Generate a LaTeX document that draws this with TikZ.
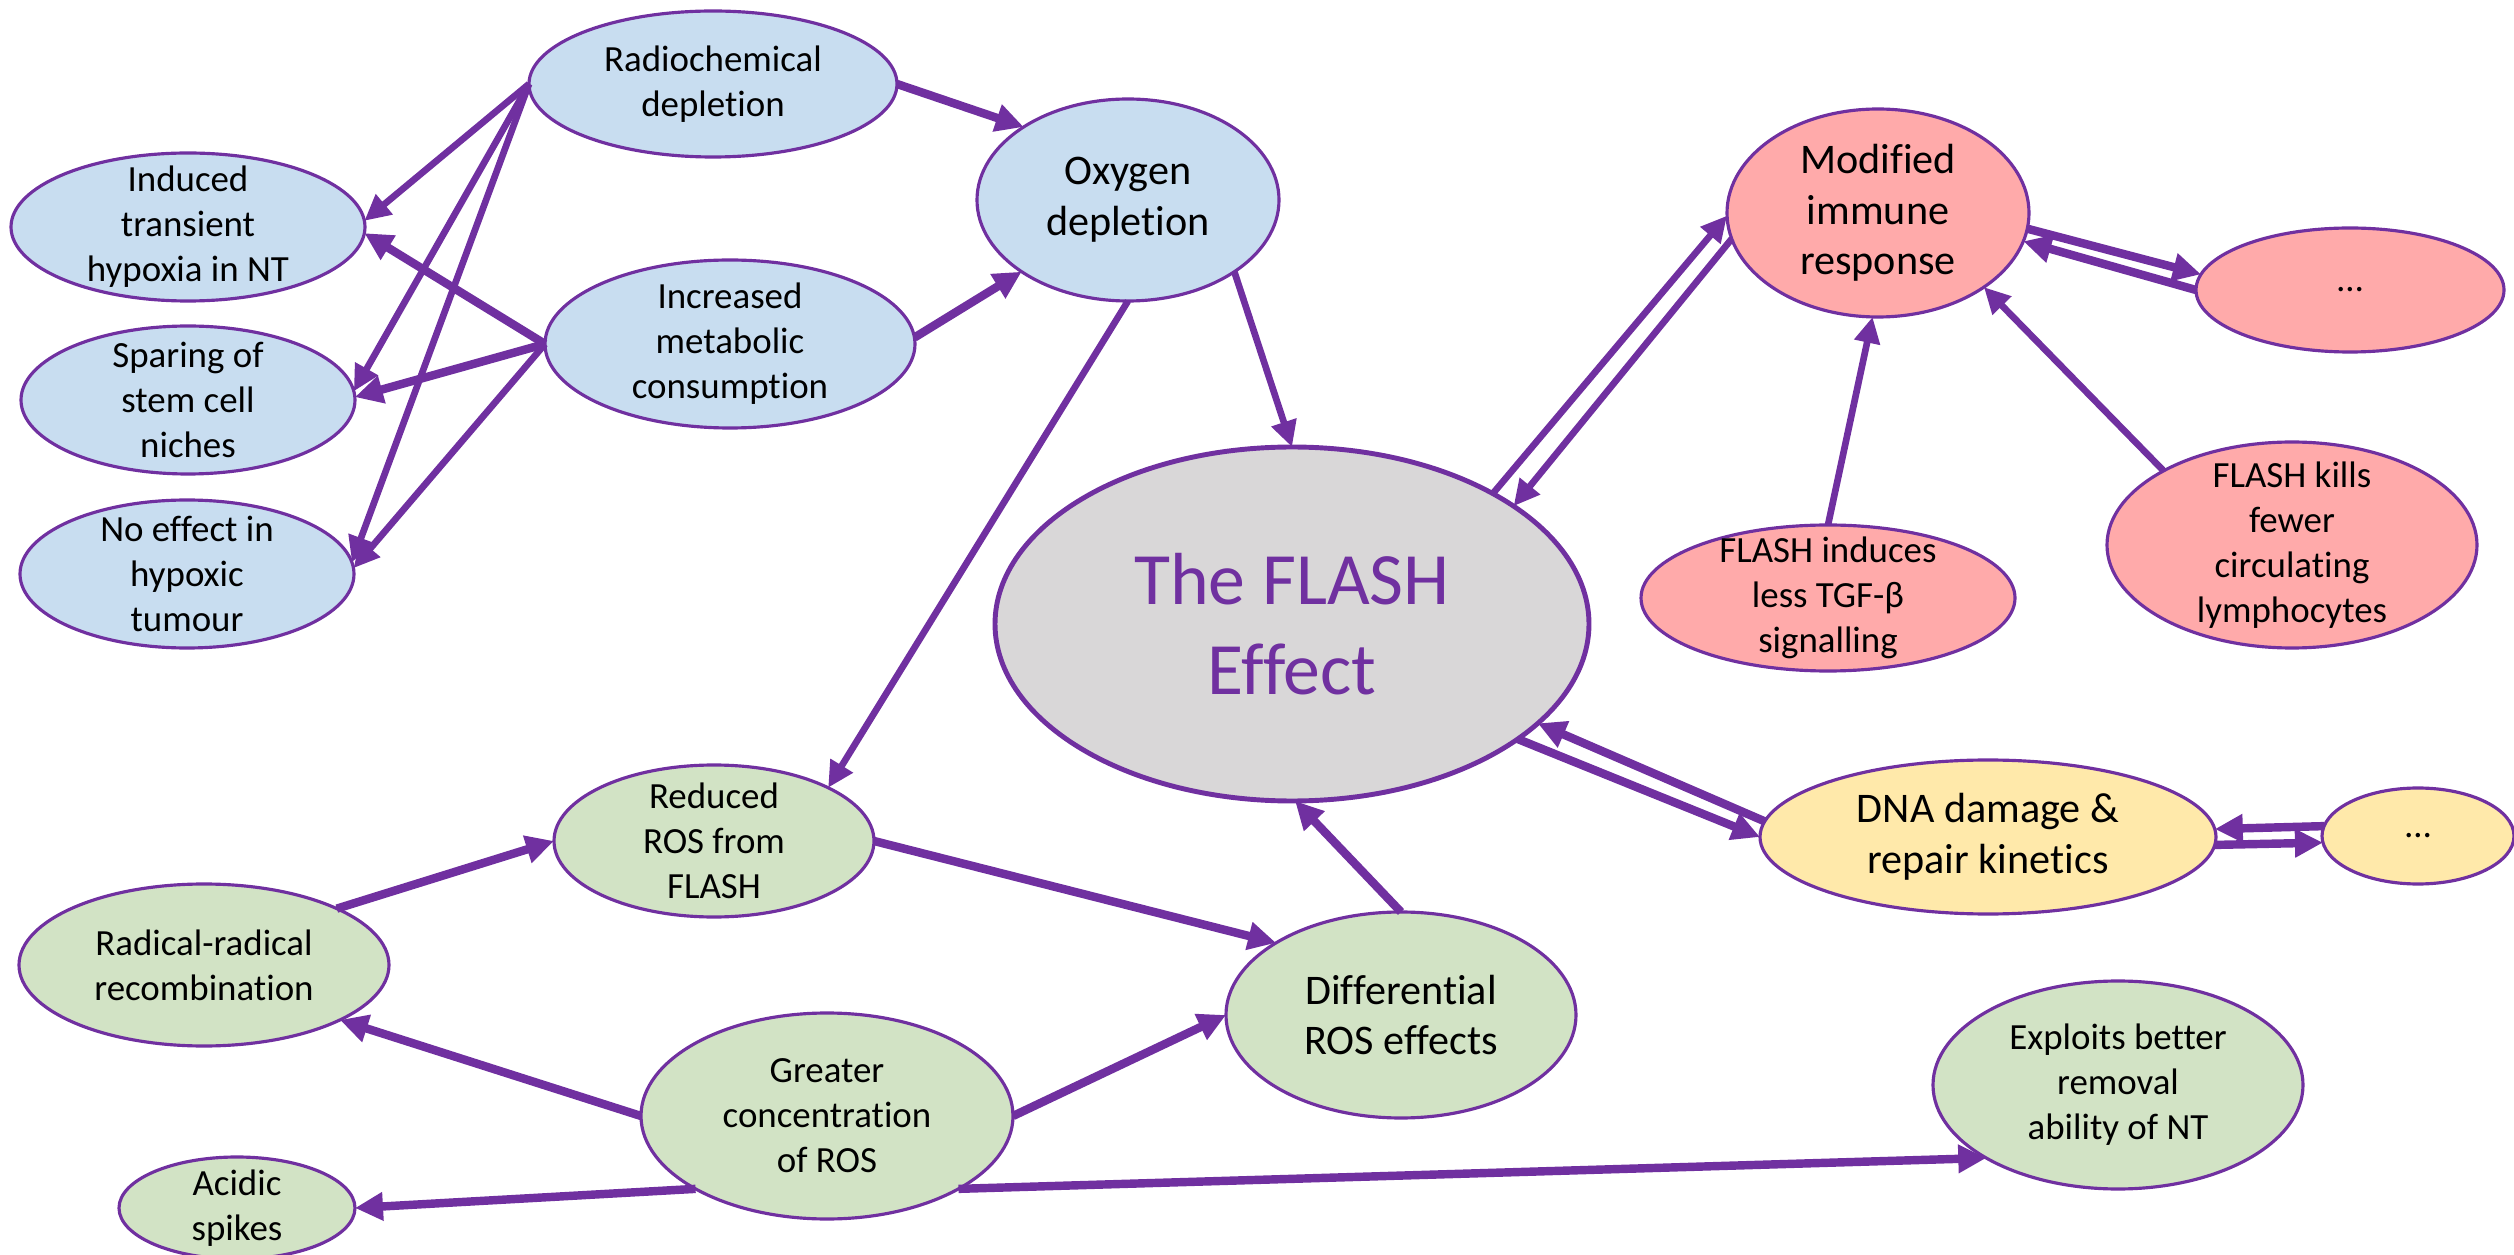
\documentclass[tikz,border=0pt]{standalone}
\usepackage{fontspec}
\setmainfont{Carlito}[Ligatures=NoCommon]
\usetikzlibrary{shapes.geometric,arrows.meta}
\definecolor{pur}{RGB}{112,48,160}
\definecolor{bl}{RGB}{200,221,240}
\definecolor{pk}{RGB}{255,170,170}
\definecolor{ye}{RGB}{255,233,170}
\definecolor{gr}{RGB}{210,227,197}
\definecolor{gy}{RGB}{217,215,216}
\begin{document}
\begin{tikzpicture}[x=0.1mm,y=-0.1mm,
  el/.style n args={3}{ellipse, draw=pur, line width=0.9pt, inner sep=0pt, outer sep=0pt,
     fill=#1, minimum width=#2*0.2mm, minimum height=#3*0.2mm},
  sm/.style={align=center, font=\fontsize{10.5}{12.8}\selectfont, inner sep=0pt, text=black},
  bg/.style={align=center, font=\fontsize{12}{14.4}\selectfont, inner sep=0pt, text=black},
  hg/.style={align=center, font=\fontsize{21}{25.8}\selectfont, inner sep=0pt, text=pur},
  ar/.style={draw=pur, line width=2.4pt, -{Triangle[length=2.8mm,width=2.7mm]}},
  ta/.style={draw=pur, line width=1.9pt, -{Triangle[length=2.6mm,width=2.5mm]}}
]
\useasboundingbox (0,0) rectangle (2514,1255);

% blue cluster
\node[el={bl}{184}{73}, label={[sm]center:{Radiochemical\\depletion}}] (rad) at (713,84) {};
\node[el={bl}{177}{74}, label={[sm]center:{Induced\\transient\\hypoxia in NT}}] (ind) at (188,227) {};
\node[el={bl}{167}{74}, label={[sm]center:{Sparing of\\stem cell\\niches}}] (spa) at (188,400) {};
\node[el={bl}{167}{74}, label={[sm]center:{No effect in\\hypoxic\\tumour}}] (noe) at (187,574) {};
\node[el={bl}{185}{84}, label={[sm]center:{Increased\\metabolic\\consumption}}] (inc) at (730,344) {};
\node[el={bl}{151}{101}, label={[bg]center:{Oxygen\\depletion}}] (oxy) at (1128,200) {};

% centre
\node[el={gy}{297}{177}, line width=1.4pt, label={[hg]center:{The FLASH\\Effect}}] (fla) at (1292,624) {};

% pink cluster
\node[el={pk}{151}{104}, label={[bg]center:{Modified\\immune\\response}}] (mod) at (1878,213) {};
\node[el={pk}{154}{62}, label={[sm]center:{…}}] (dt1) at (2350,290) {};
\node[el={pk}{187}{73}, label={[sm]center:{FLASH induces\\less TGF-β\\signalling}}] (tgf) at (1828,598) {};
\node[el={pk}{185}{103}, label={[sm]center:{FLASH kills\\fewer\\circulating\\lymphocytes}}] (kil) at (2292,545) {};

% yellow cluster
\node[el={ye}{228}{77}, label={[bg]center:{DNA damage \&\\repair kinetics}}] (dna) at (1988,837) {};
\node[el={ye}{96}{48}, label={[sm]center:{…}}] (dt2) at (2418,836) {};

% green cluster
\node[el={gr}{185}{104}, label={[sm]center:{Exploits better\\removal\\ability of NT}}] (exp) at (2118,1085) {};
\node[el={gr}{160}{76}, label={[sm]center:{Reduced\\ROS from\\FLASH}}] (red) at (714,841) {};
\node[el={gr}{185}{81}, label={[sm]center:{Radical-radical\\recombination}}] (rr) at (204,965) {};
\node[el={gr}{186}{103}, label={[sm]center:{Greater\\concentration\\of ROS}}] (gre) at (827,1116) {};
\node[el={gr}{118}{51}, label={[sm]center:{Acidic\\spikes}}] (aci) at (237,1208) {};
\node[el={gr}{175}{103}, label={[bg]center:{Differential\\ROS effects}}] (dif) at (1401,1015) {};

% connectors
\draw[ar] (rad.0) -- (oxy.145);
\draw[ar] (inc.2) -- (oxy.214);
\draw[ta] (rad.west) -- (ind.2);
\draw[ta] (rad.west) -- (spa.3);
\draw[ta] (rad.west) -- (noe.4);
\draw[ar] (inc.west) -- (ind.-2);
\draw[ar] (inc.west) -- (spa.1);
\draw[ta] (inc.west) -- (noe.2);
\draw[ta] (oxy.-34) -- (fla.north);
\draw[ta] (oxy.south) -- (red.25);
\draw[ar] (red.east) -- (dif.150);
\draw[ar] (rr.23) -- (red.west);
\draw[ar] (gre.west) -- (rr.-22);
\draw[ar] (gre.east) -- (dif.west);
\draw[ar] (gre.209) -- (aci.east);
\draw[ar] (gre.-29) -- (exp.209);
\draw[ar] (dif.north) -- (fla.-89);
\draw[ta] (fla.33) -- (mod.181);
\draw[ta] (mod.190) -- (fla.28.5);
\draw[ar] (mod.-6) -- (dt1.174);
\draw[ar] (dt1.west) -- (mod.-11);
\draw[ar] (dna.176) -- (fla.-22);
\draw[ar] (fla.-27) -- (dna.west);
\draw[ar] (dt2.174) -- (dna.2);
\draw[ar] (dna.-2) -- (dt2.184);
\draw[ta] (tgf.north) -- (mod.-93);
\draw[ta] (kil.150) -- (mod.-35);
\end{tikzpicture}
\end{document}
